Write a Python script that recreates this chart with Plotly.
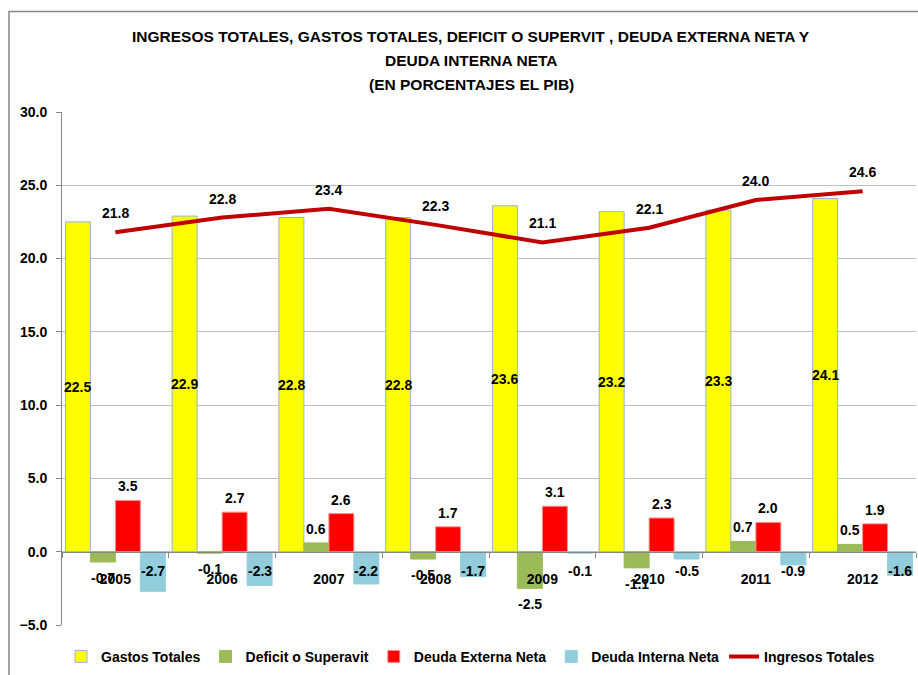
import plotly.graph_objects as go

years = ["2005", "2006", "2007", "2008", "2009", "2010", "2011", "2012"]
gastos = [22.5, 22.9, 22.8, 22.8, 23.6, 23.2, 23.3, 24.1]
deficit = [-0.7, -0.1, 0.6, -0.5, -2.5, -1.1, 0.7, 0.5]
externa = [3.5, 2.7, 2.6, 1.7, 3.1, 2.3, 2.0, 1.9]
interna = [-2.7, -2.3, -2.2, -1.7, -0.1, -0.5, -0.9, -1.6]
ingresos = [21.8, 22.8, 23.4, 22.3, 21.1, 22.1, 24.0, 24.6]

title_lines = [
    "INGRESOS TOTALES, GASTOS TOTALES, DEFICIT O SUPERVIT , DEUDA EXTERNA NETA Y",
    "DEUDA INTERNA NETA",
    "(EN PORCENTAJES EL PIB)",
]

FONT = "Liberation Sans"
AX = "#868686"
idx = list(range(len(years)))
BW = 0.234
offsets = [-2 * BW, -BW, 0.0, BW]

series = [
    ("Gastos Totales", gastos, "#FFFF00", "#95B3D7"),
    ("Deficit o Superavit", deficit, "#9BBB59", "#9BBB59"),
    ("Deuda Externa Neta", externa, "#FF0000", "#FF8C8C"),
    ("Deuda Interna Neta", interna, "#92CDDC", "#92CDDC"),
]

fig = go.Figure()
for (name, vals, col, lc), off in zip(series, offsets):
    fig.add_trace(go.Bar(
        x=idx, y=vals, name=name, width=BW, offset=off,
        marker=dict(color=col, line=dict(color=lc, width=1)),
    ))
fig.add_trace(go.Scatter(
    x=idx, y=ingresos, mode="lines", name="Ingresos Totales",
    line=dict(color="#C00000", width=4),
))

lab_font = dict(family=FONT, size=14, color="black", weight="bold")
ann = []
def lab(x, y, v, ys):
    ann.append(dict(x=x, y=y, xref="x", yref="y", text=f"{v:.1f}", showarrow=False,
                    yshift=ys, font=lab_font, xanchor="center", yanchor="middle"))

for i in idx:
    lab(i + offsets[0] + BW / 2, gastos[i] / 2, gastos[i], 0)
    d = deficit[i]
    lab(i + offsets[1] + BW / 2, d, d, 14 if d > 0 else -16)
    lab(i + offsets[2] + BW / 2, externa[i], externa[i], 14)
    lab(i + offsets[3] + BW / 2, 0, interna[i], -19)
    lab(i, ingresos[i], ingresos[i], 19)

# title lines (pixel rows converted to paper coords of the plot area)
top_px, bot_px, left_px, w_px = 112, 628, 62, 854
for line, py in zip(title_lines, [36, 60, 84]):
    ann.append(dict(x=(471 - left_px) / w_px, y=(bot_px - py) / (bot_px - top_px),
                    xref="paper", yref="paper", text=line, showarrow=False,
                    font=dict(family=FONT, size=15.5, color="black", weight="bold"),
                    xanchor="center", yanchor="middle"))

fig.update_layout(
    width=918, height=675,
    margin=dict(l=62, r=2, t=112, b=47),
    paper_bgcolor="white", plot_bgcolor="white",
    barmode="overlay",
    showlegend=True,
    legend=dict(orientation="h", x=(61 - left_px) / w_px, xanchor="left",
                y=(bot_px - 660) / (bot_px - top_px), yanchor="middle",
                font=dict(family=FONT, size=14, color="black", weight="bold"),
                bgcolor="rgba(0,0,0,0)"),
    annotations=ann,
    xaxis=dict(
        range=[-0.5, 7.5], tickmode="array", tickvals=idx, ticktext=years,
        ticks="", anchor="free", position=5 / 35,
        showline=True, linecolor=AX, linewidth=1, showgrid=False, zeroline=False,
        tickfont=dict(family=FONT, size=14, color="black", weight="bold"),
        ticklabelstandoff=14,
        minor=dict(tickmode="array", tickvals=[i - 0.5 for i in range(len(years) + 1)],
                   ticks="outside", ticklen=5, tickcolor=AX, showgrid=False),
    ),
    yaxis=dict(
        range=[-5, 30], dtick=5, tick0=0, tickformat=".1f",
        ticks="outside", ticklen=5, tickcolor=AX,
        showline=True, linecolor=AX, linewidth=1,
        gridcolor="#BFBFBF", zeroline=False,
        tickfont=dict(family=FONT, size=14, color="black", weight="bold"),
        ticklabelstandoff=6,
    ),
    shapes=[dict(type="rect", xref="paper", yref="paper",
                 x0=(9 - left_px) / w_px, x1=1.02, y0=-0.3,
                 y1=(bot_px - 11) / (bot_px - top_px),
                 line=dict(color=AX, width=1.5), fillcolor="rgba(0,0,0,0)", layer="below")],
)

fig.write_html(
    "out.html",
    config={"displayModeBar": False},
    post_script="document.body.style.margin='0px';document.body.style.overflow='hidden';",
)
